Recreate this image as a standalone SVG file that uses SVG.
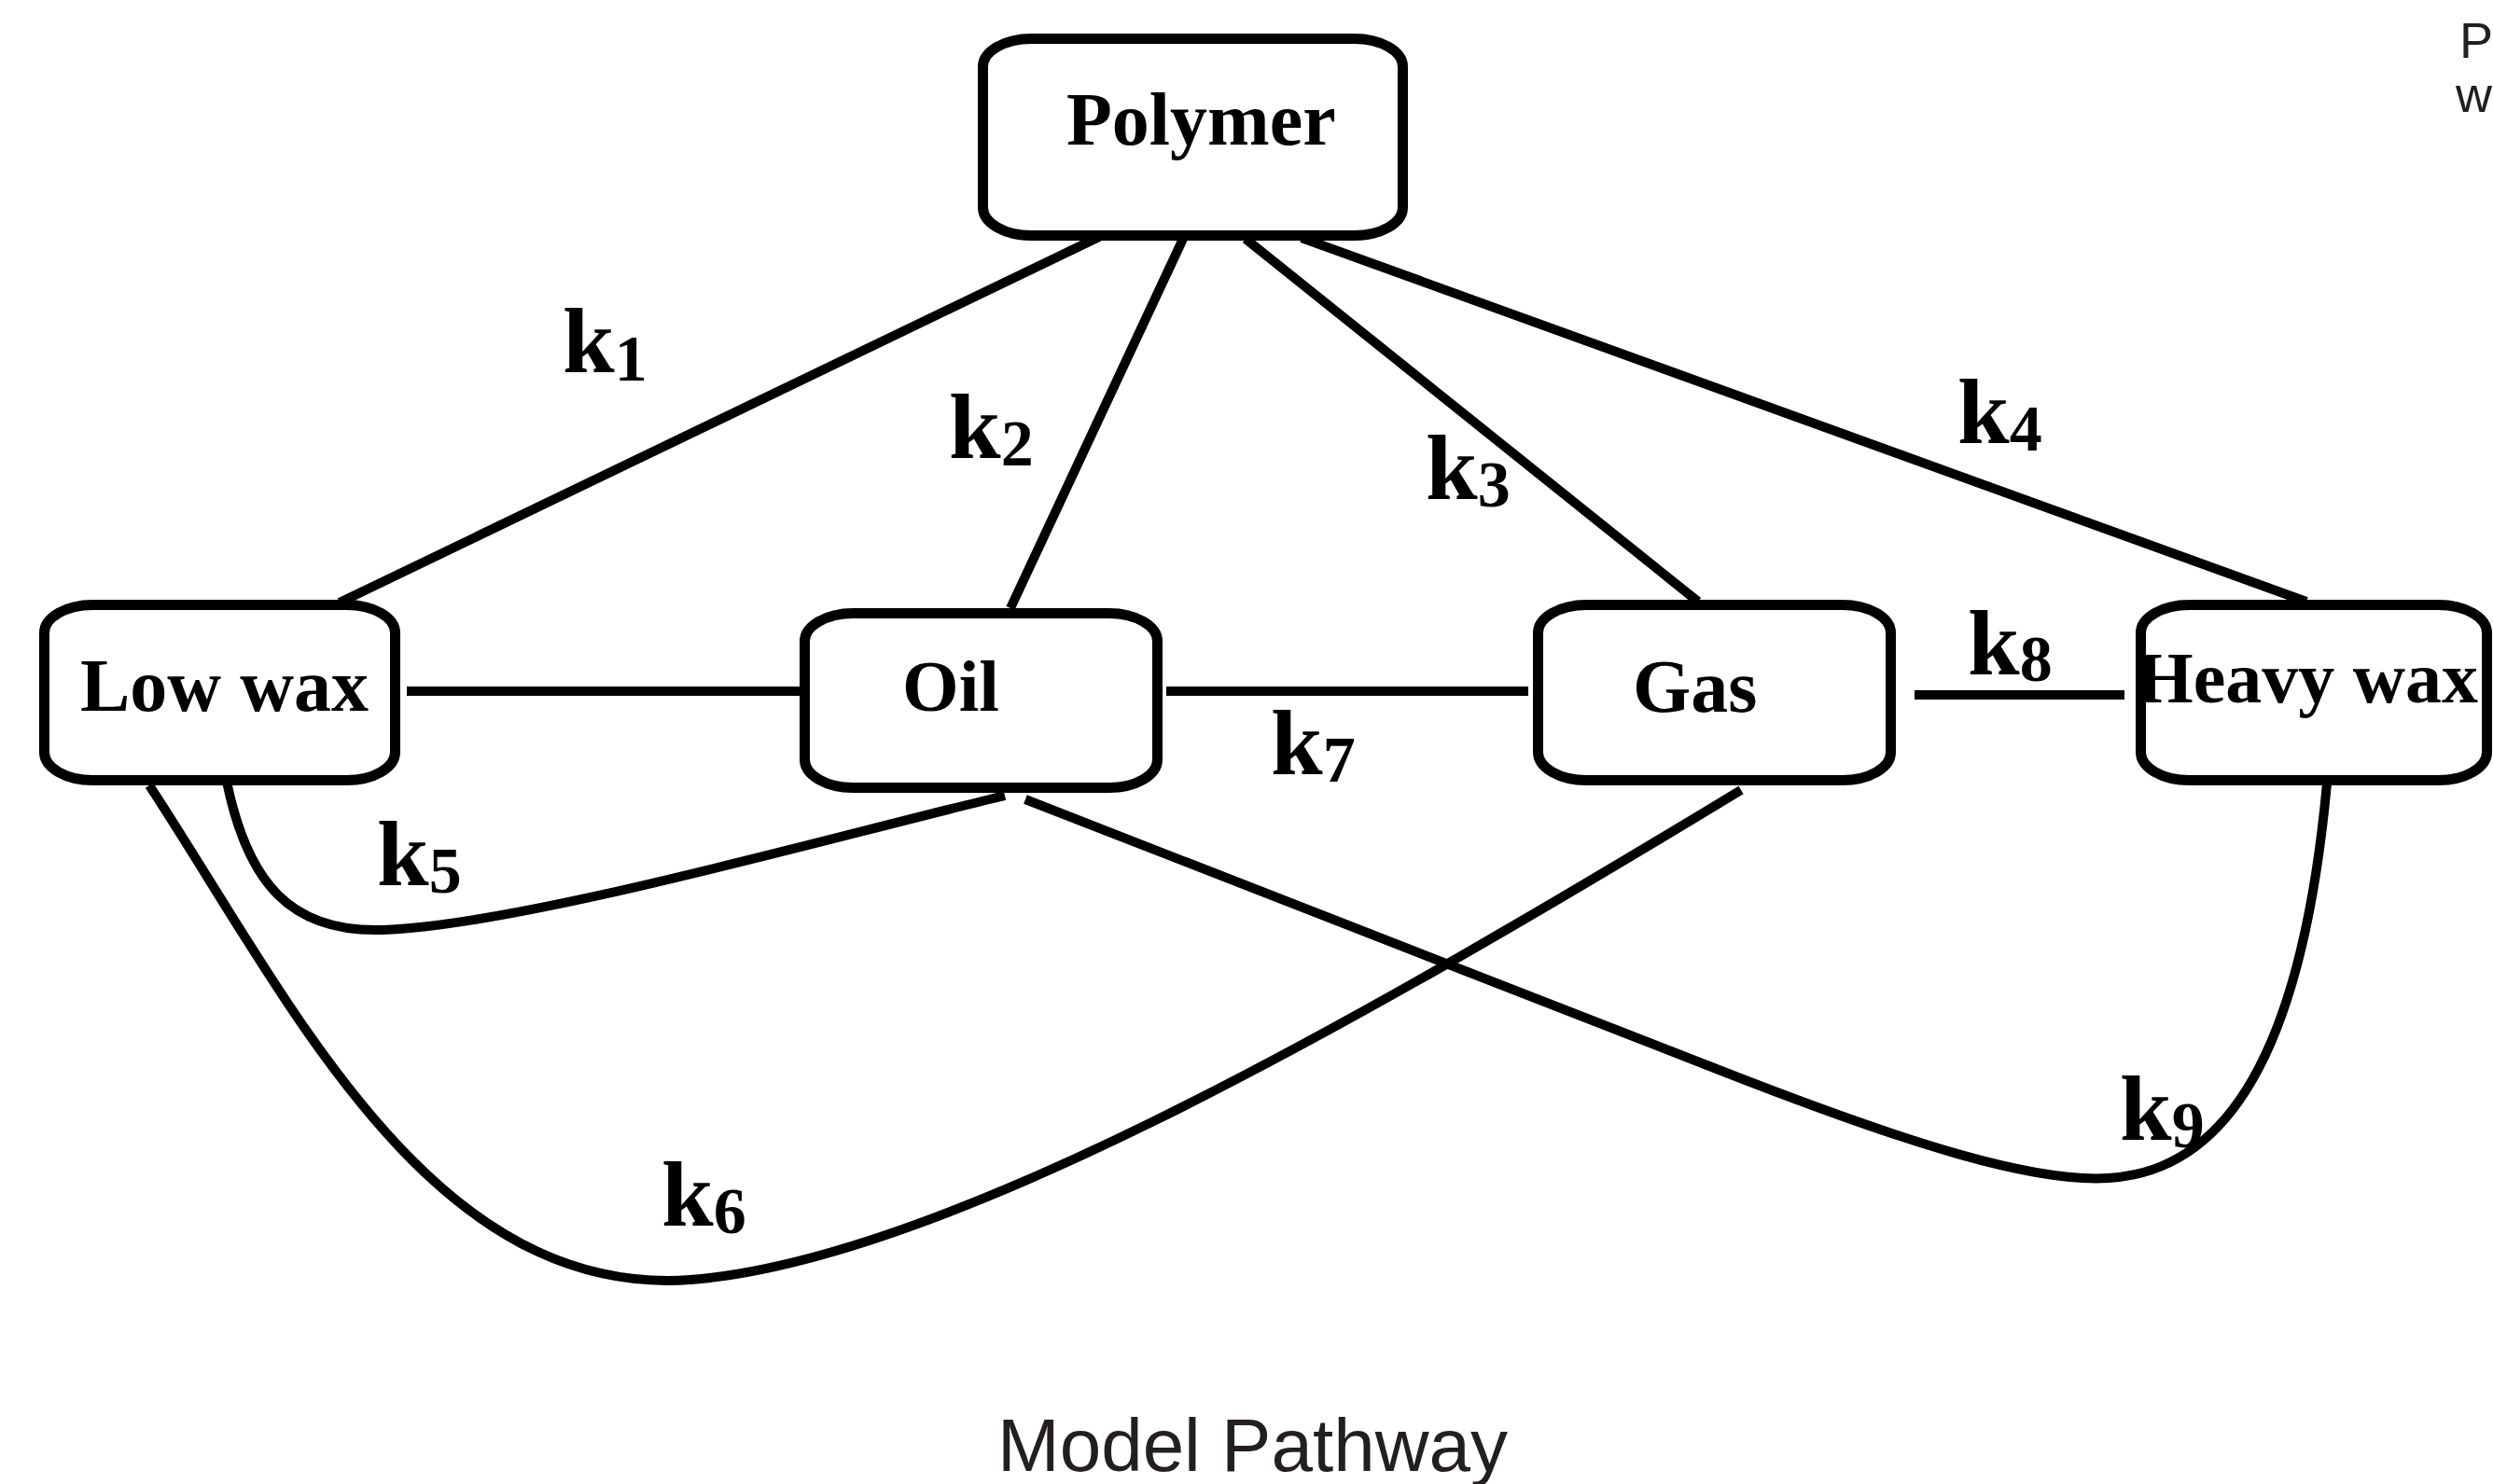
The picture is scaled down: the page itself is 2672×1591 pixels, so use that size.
<svg xmlns="http://www.w3.org/2000/svg" width="2672" height="1591" viewBox="0 0 2672 1591">
<style>
.box{fill:#fff;stroke:#000;stroke-width:11}
.lbl{font-family:"Liberation Serif","Times New Roman",serif;font-weight:bold;font-size:80px;fill:#000}
.k{font-family:"Liberation Serif","Times New Roman",serif;font-weight:bold;font-size:100px;fill:#000}
.sub{font-size:70px}
.edge{fill:none;stroke:#000;stroke-width:10}
.cap{font-family:"Liberation Sans",Arial,sans-serif;fill:#231f20}
</style>
<rect width="2672" height="1591" fill="#fff"/>
<g id="connectors">
<line class="edge" x1="364" y1="646" x2="1178" y2="254"/>
<line class="edge" x1="1268" y1="256" x2="1083" y2="652"/>
<line class="edge" x1="1335" y1="256" x2="1820" y2="645"/>
<line class="edge" x1="1395" y1="255" x2="2472" y2="645"/>
<line class="edge" x1="436" y1="741" x2="857" y2="741"/>
<line class="edge" x1="1250" y1="741" x2="1638" y2="741"/>
<line class="edge" x1="2052" y1="745" x2="2277" y2="745"/>
<path class="edge" d="M243,838 C265,945 310,1000 410,997 C560,992 900,895 1077,853"/>
<path class="edge" d="M160,842 C310,1070 460,1392 740,1372 C1000,1352 1420,1118 1866,847"/>
<path class="edge" d="M1099,857 L1850,1150 C2050,1228 2180,1268 2260,1263 C2400,1255 2470,1100 2494,840"/>
</g>
<g id="node-polymer">
<rect class="box" x="1053.5" y="41.5" width="450" height="211" rx="52" ry="30"/>
<text class="lbl" x="1143" y="155">Polymer</text>
</g>
<g id="node-lowwax">
<rect class="box" x="47.5" y="648.5" width="376" height="188" rx="52" ry="30"/>
<text class="lbl" x="86" y="762">Low wax</text>
</g>
<g id="node-oil">
<rect class="box" x="862.5" y="657.5" width="378" height="187" rx="52" ry="30"/>
<text class="lbl" x="967" y="762" style="font-size:78px">Oil</text>
</g>
<g id="node-gas">
<rect class="box" x="1648.5" y="648.5" width="378" height="188" rx="52" ry="30"/>
<text class="lbl" x="1750" y="763">Gas</text>
</g>
<g id="node-heavywax">
<rect class="box" x="2294.5" y="648.5" width="371" height="188" rx="52" ry="30"/>
<text class="lbl" x="2290" y="753" style="font-size:78px">Heavy wax</text>
</g>
<g id="labels">
<text class="k" x="603" y="399">k<tspan class="sub" dy="9">1</tspan></text>
<text class="k" x="1017" y="491">k<tspan class="sub" dy="8">2</tspan></text>
<text class="k" x="1528" y="535">k<tspan class="sub" dy="8">3</tspan></text>
<text class="k" x="2098" y="475">k<tspan class="sub" dy="8">4</tspan></text>
<text class="k" x="404" y="949">k<tspan class="sub" dy="8">5</tspan></text>
<text class="k" x="709" y="1314">k<tspan class="sub" dy="8">6</tspan></text>
<text class="k" x="1362" y="830">k<tspan class="sub" dy="8">7</tspan></text>
<text class="k" x="2109" y="723">k<tspan class="sub" dy="7">8</tspan></text>
<text class="k" x="2272" y="1222">k<tspan class="sub" dy="8">9</tspan></text>
</g>
<text class="cap" x="1069" y="1577" font-size="80">Model Pathway</text>
<text class="cap" x="2636" y="62" font-size="54" fill="#222">P</text>
<text class="cap" x="2632" y="120" font-size="54" fill="#222">w</text>
</svg>
